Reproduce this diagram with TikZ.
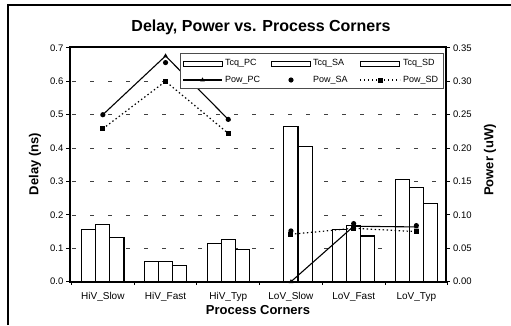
\documentclass[tikz,border=0pt]{standalone}
\usepackage{fontspec}
\setmainfont{Liberation Sans}
\begin{document}
\begin{tikzpicture}[x=1pt,y=-1pt,
  gridline/.style={black!75,line width=0.8pt,dash pattern=on 4pt off 14pt},
  barbox/.style={draw=black,fill=white,line width=1.1pt},
  frameline/.style={line width=2.2pt,line join=miter},
  ticklbl/.style={font=\fontsize{9.5}{11}\selectfont,inner sep=0pt},
  catlbl/.style={font=\fontsize{10}{12}\selectfont,inner sep=0pt},
  axtitle/.style={font=\fontsize{13}{15}\selectfont\bfseries,inner sep=0pt},
  legtext/.style={font=\fontsize{9}{11}\selectfont,inner sep=0pt,anchor=west},
  powpc/.style={line width=1.1pt},
  powsd/.style={line width=1.2pt,dash pattern=on 1.4pt off 2.6pt},
  tri/.pic={\fill (0,-2.6) -- (2.3,1.4) -- (-2.3,1.4) -- cycle;},
  dotmark/.pic={\fill (0,0) circle[radius=2.6pt];},
  sqmark/.pic={\fill (-2.5,-2.5) rectangle (2.5,2.5);},
]
\useasboundingbox (0,0) rectangle (511,325);

% outer chart frame (top and left edges)
\draw[line width=1.2pt] (8,325) -- (8,5) -- (511,5);

% title
\node[font=\fontsize{16}{18}\selectfont\bfseries,inner sep=0pt] (title) at (261,27) {Delay, Power vs. Process Corners};

% horizontal grid
\foreach \v in {1,...,6}
  \draw[gridline] (72,{281.7-33.4*\v}) -- (444,{281.7-33.4*\v});

% delay bars: Tcq_PC, Tcq_SA, Tcq_SD per corner
\foreach \i/\a/\b/\c in {0/0.157/0.171/0.132, 1/0.060/0.061/0.048, 2/0.114/0.126/0.097,
                         3/0/0.464/0.404, 4/0.155/0.168/0.137, 5/0.307/0.283/0.235}{
  \pgfmathsetmacro{\xa}{81.7+62.7*\i}
  \draw[barbox] (\xa,281.7) rectangle ({\xa+14.1},{281.7-334*\a});
  \draw[barbox] ({\xa+14.1},281.7) rectangle ({\xa+28.2},{281.7-334*\b});
  \draw[barbox] ({\xa+28.2},281.7) rectangle ({\xa+42.3},{281.7-334*\c});
}

% plot frame
\draw[frameline] (70,281.7) rectangle (446,46.8);

% axis ticks and tick labels
\foreach \v in {0,...,7}{
  \draw[line width=1pt] (66,{281.7-33.4*\v}) -- (70,{281.7-33.4*\v});
  \draw[line width=1pt] (446,{281.7-33.4*\v}) -- (450,{281.7-33.4*\v});
  \node[ticklbl,anchor=east] (l\v) at (63.5,{281.7-33.4*\v}) {0.\v};
}
\foreach \v/\t in {0/0.00,1/0.05,2/0.10,3/0.15,4/0.20,5/0.25,6/0.30,7/0.35}
  \node[ticklbl,anchor=west] (r\v) at (453,{281.7-33.4*\v}) {\t};
\foreach \k in {0,...,6}
  \draw[line width=0.9pt] ({70+62.7*\k+1.5},281.7) -- ({70+62.7*\k+1.5},285);

% category labels
\foreach \i/\t in {0/HiV\_Slow,1/HiV\_Fast,2/HiV\_Typ,3/LoV\_Slow,4/LoV\_Fast,5/LoV\_Typ}
  \node[catlbl] (c\i) at ({102.85+62.7*\i},297) {\t};

% axis titles
\node[axtitle] (xt) at (258,310) {Process Corners};
\node[axtitle,rotate=90] (yl) at (35,164) {Delay (ns)};
\node[axtitle,rotate=90] (yr) at (490,160) {Power (uW)};

% power series
\foreach \i/\p/\q/\r in {0/0.250/0.250/0.229, 1/0.338/0.328/0.300, 2/0.243/0.243/0.222,
                         3/0.000/0.076/0.071, 4/0.083/0.087/0.080, 5/0.082/0.084/0.075}{
  \coordinate (pc\i) at ({102.85+62.7*\i},{281.7-668*\p});
  \coordinate (sa\i) at ({102.85+62.7*\i},{281.7-668*\q});
  \coordinate (sd\i) at ({102.85+62.7*\i},{281.7-668*\r});
}
\draw[powpc] (pc0) -- (pc1) -- (pc2);
\draw[powpc] (pc3) -- (pc4) -- (pc5);
\draw[powsd] (sd0) -- (sd1) -- (sd2);
\draw[powsd] (sd3) -- (sd4) -- (sd5);
\foreach \i in {0,...,5}{
  \pic at (pc\i) {tri};
  \pic at (sa\i) {dotmark};
  \pic at (sd\i) {sqmark};
}

% legend
\draw[black!70,fill=white,line width=0.8pt] (180,53) rectangle (443,88);
\draw[line width=0.9pt] (183,61) rectangle (222,66);
\node[legtext] (lg1) at (225,63.5) {Tcq\_PC};
\draw[line width=0.9pt] (271,61) rectangle (310,66);
\node[legtext] (lg2) at (313,63.5) {Tcq\_SA};
\draw[line width=0.9pt] (360,61) rectangle (399,66);
\node[legtext] (lg3) at (403,63.5) {Tcq\_SD};
\coordinate (la) at (183,80);
\coordinate (lb) at (222,80);
\draw[powpc] (la) -- (lb);
\pic at (202.5,80) {tri};
\node[legtext] (lg4) at (225,80) {Pow\_PC};
\pic at (291,80) {dotmark};
\node[legtext] (lg5) at (313,80) {Pow\_SA};
\coordinate (lc) at (360,80);
\coordinate (ld) at (400,80);
\draw[powsd] (lc) -- (ld);
\pic at (380,80) {sqmark};
\node[legtext] (lg6) at (403,80) {Pow\_SD};
\end{tikzpicture}
\end{document}
